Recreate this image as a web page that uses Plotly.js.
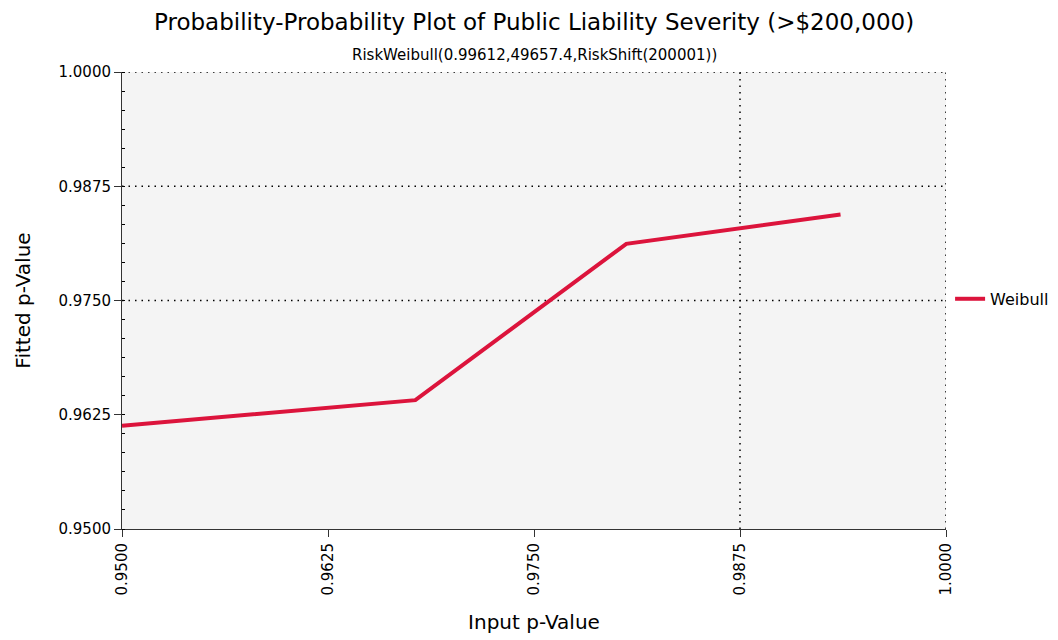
<!DOCTYPE html>
<html>
<head>
<meta charset="utf-8">
<script src="https://cdn.plot.ly/plotly-3.0.1.min.js"></script>
<style>html,body{margin:0;padding:0;background:#fff;}#chart{width:1058px;height:640px;}</style>
</head>
<body>
<div id="chart"></div>
<script>
const seriesName = "Weibull";
const inputP = [0.9500, 0.9678, 0.9806, 0.9936];
const fittedP = [0.9613, 0.9641, 0.9812, 0.9844];
const tickVals = [0.9500, 0.9625, 0.9750, 0.9875, 1.0000];
const tickText = ["0.9500", "0.9625", "0.9750", "0.9875", "1.0000"];
const hGrid = [0.9750, 0.9875, 1.0000];
const vGrid = [0.9875, 1.0000];
const mainTitle = "Probability-Probability Plot of Public Liability Severity (>$200,000)";
const subTitle = "RiskWeibull(0.99612,49657.4,RiskShift(200001))";

const font = "DejaVu Sans, Verdana, sans-serif";
const shapes = [];
hGrid.forEach(v => shapes.push({type:'line', xref:'paper', x0:0, x1:1, yref:'y', y0:v, y1:v, line:{color:'#000', width:1.5, dash:'1.5px,5px'}, layer:'below'}));
vGrid.forEach(v => shapes.push({type:'line', yref:'paper', y0:0, y1:1, xref:'x', x0:v, x1:v, line:{color:'#000', width:1.5, dash:'1.5px,5px'}, layer:'below'}));

const data = [{
  x: inputP, y: fittedP, type:'scatter', mode:'lines', name: seriesName,
  line:{color:'#dc143c', width:4}
}];

const layout = {
  width:1058, height:640,
  margin:{l:122, r:112, t:72, b:111},
  paper_bgcolor:'#ffffff', plot_bgcolor:'#f4f4f4',
  font:{family:font, color:'#000'},
  annotations:[
    {text:mainTitle, xref:'paper', yref:'paper', x:0.5, y:1.109, xanchor:'center', yanchor:'middle', showarrow:false, font:{size:23, family:font, color:'#000'}},
    {text:subTitle, xref:'paper', yref:'paper', x:0.5, y:1.037, xanchor:'center', yanchor:'middle', showarrow:false, font:{size:15, family:font, color:'#000'}}
  ],
  xaxis:{range:[0.95,1.0], tickvals:tickVals, ticktext:tickText, tickangle:-90,
    showgrid:false, zeroline:false, showline:true, linecolor:'#333', linewidth:1,
    ticks:'outside', ticklen:7, tickcolor:'#333', tickfont:{size:15, family:font},
    title:{text:'Input p-Value', font:{size:20, family:font}, standoff:20}},
  yaxis:{range:[0.95,1.0], tickvals:tickVals, ticktext:tickText,
    showgrid:false, zeroline:false, showline:true, linecolor:'#333', linewidth:1,
    ticks:'outside', ticklen:7, tickcolor:'#333', tickfont:{size:15, family:font},
    minor:{dtick:0.0125/6, tick0:0.95, ticks:'inside', ticklen:3, tickcolor:'#000', showgrid:false},
    title:{text:'Fitted p-Value', font:{size:20, family:font}, standoff:22}},
  legend:{xref:'container', yref:'container', x:0.898, y:0.533, xanchor:'left', yanchor:'middle', font:{size:16, family:font}, bgcolor:'rgba(0,0,0,0)', itemwidth:30},
  showlegend:true,
  shapes: shapes
};
Plotly.newPlot('chart', data, layout, {displayModeBar:false, staticPlot:true});
</script>
</body>
</html>
